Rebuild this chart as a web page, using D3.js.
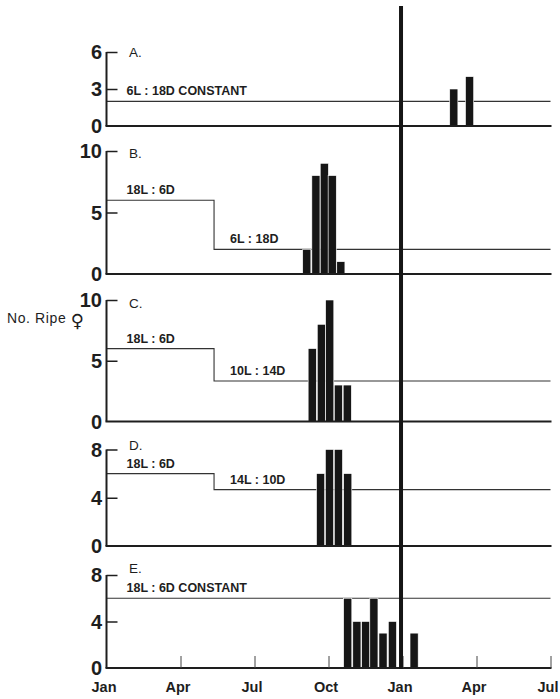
<!DOCTYPE html>
<html><head><meta charset="utf-8">
<script src="https://cdn.jsdelivr.net/npm/d3@7"></script>
<style>
html,body{margin:0;padding:0;background:#fff;}
svg{display:block;}
text{font-family:"Liberation Sans",Arial,Helvetica,sans-serif;fill:#1e1e1e;}
</style></head>
<body><svg id="chart" width="560" height="699"></svg>
<script>
// ---- data ----
const monthTicks = [0, 3, 6, 9, 12, 15, 18];
const monthLabels = ["Jan", "Apr", "Jul", "Oct", "Jan", "Apr", "Jul"];
const panelLetters = ["A.", "B.", "C.", "D.", "E."];
const yMaxes = [6, 10, 10, 8, 8];
const yTicksA = [0, 3, 6];
const yTicksB = [0, 5, 10];
const yTicksC = [0, 5, 10];
const yTicksD = [0, 4, 8];
const yTicksE = [0, 4, 8];

// bars: centre month (0 = Jan of first year) and number of ripe females
const barMonthsA = [14.08, 14.72];
const barCountsA = [3, 4];
const barMonthsB = [8.12, 8.49, 8.83, 9.15, 9.50];
const barCountsB = [2, 8, 9, 8, 1];
const barMonthsC = [8.34, 8.71, 9.05, 9.40, 9.76];
const barCountsC = [6, 8, 10, 3, 3];
const barMonthsD = [8.68, 9.04, 9.40, 9.78];
const barCountsD = [6, 8, 8, 6];
const barMonthsE = [9.78, 10.15, 10.51, 10.84, 11.21, 11.59, 12.47];
const barCountsE = [6, 4, 4, 6, 3, 4, 3];
const barWidthMonths = 0.33;

// photoperiod regimes: level drawn on the count axis, start month, label
const photoLevelsA = [2];        const photoStartsA = [0];     const photoLabelsA = ["6L : 18D CONSTANT"];
const photoLevelsB = [6, 2];     const photoStartsB = [0, 4.36]; const photoLabelsB = ["18L : 6D", "6L : 18D"];
const photoLevelsC = [6, 3.33];  const photoStartsC = [0, 4.36]; const photoLabelsC = ["18L : 6D", "10L : 14D"];
const photoLevelsD = [6, 4.67];  const photoStartsD = [0, 4.36]; const photoLabelsD = ["18L : 6D", "14L : 10D"];
const photoLevelsE = [6];        const photoStartsE = [0];     const photoLabelsE = ["18L : 6D CONSTANT"];
const yearBoundaryMonth = 11.94;
const yAxisTitle = "No. Ripe ";
const femaleSymbol = "\u2640";

// ---- layout ----
const svg = d3.select("#chart");
const ink = "#1e1e1e";
const x = d3.scaleLinear().domain([0, 18]).range([106.5, 550.5]);
const panelTop = [52, 151, 300, 449.5, 575];
const panelBase = [126, 274, 421.5, 546, 668];
const letterOffsets = [5, 7, 7.5, 0, -2];

const panels = [
  {ticks: yTicksA, bm: barMonthsA, bc: barCountsA, pl: photoLevelsA, ps: photoStartsA, pt: photoLabelsA},
  {ticks: yTicksB, bm: barMonthsB, bc: barCountsB, pl: photoLevelsB, ps: photoStartsB, pt: photoLabelsB},
  {ticks: yTicksC, bm: barMonthsC, bc: barCountsC, pl: photoLevelsC, ps: photoStartsC, pt: photoLabelsC},
  {ticks: yTicksD, bm: barMonthsD, bc: barCountsD, pl: photoLevelsD, ps: photoStartsD, pt: photoLabelsD},
  {ticks: yTicksE, bm: barMonthsE, bc: barCountsE, pl: photoLevelsE, ps: photoStartsE, pt: photoLabelsE}
];

panels.forEach((p, i) => {
  const y = d3.scaleLinear().domain([0, yMaxes[i]]).range([panelBase[i], panelTop[i]]);
  const g = svg.append("g");

  // photoperiod step line
  const pts = [];
  p.pl.forEach((lv, k) => {
    const start = p.ps[k];
    const end = k < p.pl.length - 1 ? p.ps[k + 1] : 18;
    pts.push([x(start), y(lv)]);
    pts.push([x(end), y(lv)]);
  });
  g.append("path")
    .attr("d", d3.line()(pts))
    .attr("fill", "none").attr("stroke", "#333").attr("stroke-width", 1.1);

  // photoperiod labels
  p.pt.forEach((t, k) => {
    g.append("text")
      .attr("x", k === 0 ? x(p.ps[k]) + 20 : x(p.ps[k]) + 16)
      .attr("y", y(p.pl[k]) - 6)
      .attr("font-size", 12.5).attr("font-weight", "bold")
      .attr("fill", "#2a2a2a")
      .text(t);
  });

  // bars
  g.selectAll("rect.bar").data(p.bm.map((m, k) => ({m, c: p.bc[k]})))
    .join("rect").attr("class", "bar")
    .attr("x", d => x(d.m - barWidthMonths / 2))
    .attr("width", x(barWidthMonths) - x(0))
    .attr("y", d => y(d.c))
    .attr("height", d => y(0) - y(d.c))
    .attr("fill", "#161616")
    .attr("stroke", "#fff").attr("stroke-width", 0.6);

  // y axis (ticks pointing inward)
  const yAxis = d3.axisRight(y).tickValues(p.ticks).tickSize(11).tickFormat("");
  const ax = g.append("g").attr("transform", `translate(${x(0)},0)`).call(yAxis);
  ax.select(".domain").attr("d", `M0,${y(yMaxes[i])}V${y(0)}`).attr("stroke", ink).attr("stroke-width", 2);
  ax.selectAll(".tick line").attr("stroke", ink).attr("stroke-width", 1.5);
  ax.selectAll(".tick").filter(d => d === 0).select("line").remove();

  // y tick labels
  g.selectAll("text.yl").data(p.ticks).join("text").attr("class", "yl")
    .attr("x", 102).attr("y", d => y(d))
    .attr("dy", "0.36em")
    .attr("text-anchor", "end")
    .attr("font-size", 20).attr("font-weight", "bold")
    .attr("fill", ink)
    .text(d => d);

  // baseline
  g.append("line")
    .attr("x1", x(0) - 1).attr("x2", x(18) + 1)
    .attr("y1", y(0)).attr("y2", y(0))
    .attr("stroke", ink).attr("stroke-width", 2.2);

  // panel letter
  g.append("text")
    .attr("x", 129).attr("y", panelTop[i] + letterOffsets[i])
    .attr("font-size", 13.5)
    .text(panelLetters[i]);

  // x ticks on the bottom panel only
  if (i === panels.length - 1) {
    const xAxis = d3.axisTop(x).tickValues(monthTicks.slice(1)).tickSize(12).tickFormat("");
    const xa = g.append("g").attr("transform", `translate(0,${y(0)})`).call(xAxis);
    xa.select(".domain").remove();
    xa.selectAll(".tick line").attr("stroke", "#444").attr("stroke-width", 1);
    g.selectAll("text.xl").data(monthTicks).join("text").attr("class", "xl")
      .attr("x", d => x(d) - 2.5).attr("y", 691.5)
      .attr("text-anchor", "middle")
      .attr("font-size", 14.5).attr("font-weight", "bold")
      .attr("fill", ink)
      .text((d, k) => monthLabels[k]);
  }
});

// year boundary line
svg.append("line")
  .attr("x1", x(yearBoundaryMonth)).attr("x2", x(yearBoundaryMonth))
  .attr("y1", 6).attr("y2", 669)
  .attr("stroke", "#161616").attr("stroke-width", 4);

// y-axis title
const title = svg.append("text").attr("x", 7).attr("y", 323)
  .attr("font-size", 14).attr("letter-spacing", 0.6).attr("fill", ink);
title.append("tspan").text(yAxisTitle);
title.append("tspan").attr("font-family", "DejaVu Sans").attr("font-size", 18)
  .attr("letter-spacing", 0).attr("dy", 4).text(femaleSymbol);
</script></body></html>
